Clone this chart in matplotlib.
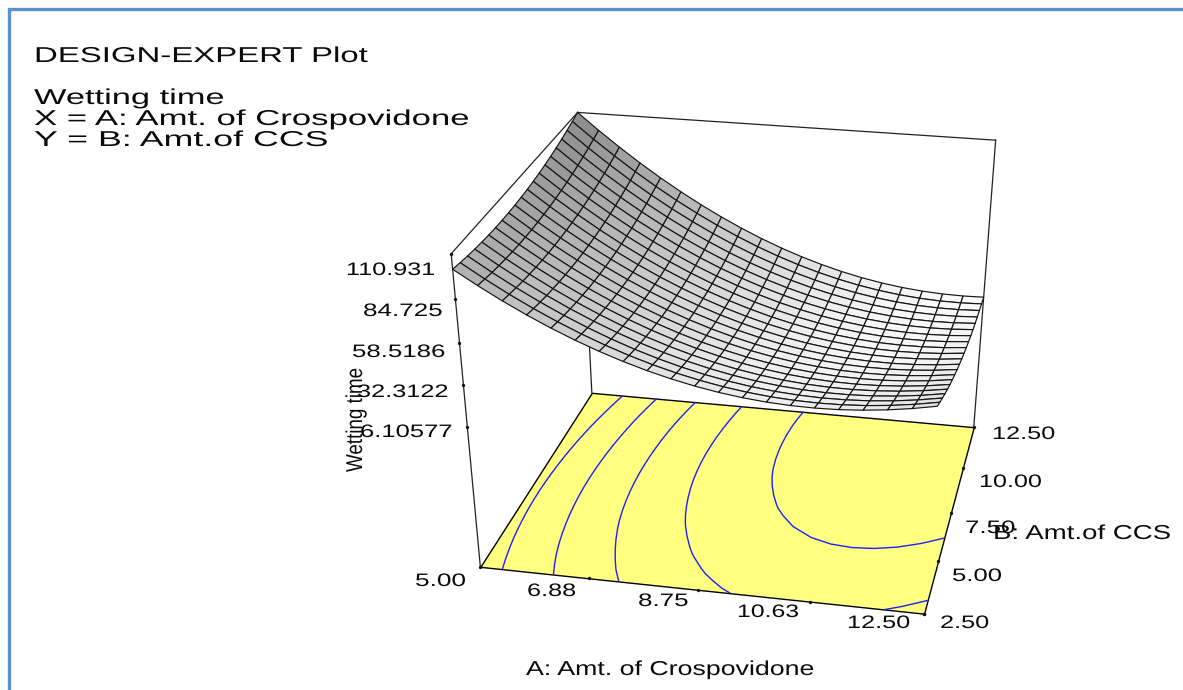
"""
plot.py - Design-Expert response surface for wetting time, with contours on the floor
"""
import numpy as np
import matplotlib
matplotlib.use("Agg")
import matplotlib.pyplot as plt
from matplotlib.collections import PolyCollection
from matplotlib.patheffects import AbstractPathEffect
from matplotlib.transforms import Affine2D

a_ticks = [5.00, 6.88, 8.75, 10.63, 12.50]
b_ticks = [2.50, 5.00, 7.50, 10.00, 12.50]
z_ticks = [6.10577, 32.3122, 58.5186, 84.725, 110.931]
contour_levels = [23.6, 41.1, 58.6, 76.0, 93.4]
z_floor = -88.4

# wetting time: rows go along A (5 -> 12.5), columns along B (2.5 -> 12.5)
wetting = np.array([
    [102.00, 100.93, 100.01, 99.26, 98.67, 98.23, 97.96, 97.85, 97.89, 98.10, 98.47, 98.99, 99.68, 100.52, 101.53, 102.70, 104.02, 105.51, 107.16, 108.96, 110.93],
    [93.63, 92.44, 91.40, 90.53, 89.82, 89.27, 88.87, 88.64, 88.57, 88.65, 88.90, 89.31, 89.87, 90.60, 91.49, 92.54, 93.74, 95.11, 96.64, 98.32, 100.17],
    [85.85, 84.54, 83.39, 82.39, 81.56, 80.89, 80.38, 80.02, 79.83, 79.80, 79.93, 80.21, 80.66, 81.27, 82.04, 82.96, 84.05, 85.30, 86.71, 88.27, 90.00],
    [78.64, 77.21, 75.94, 74.82, 73.87, 73.08, 72.45, 71.98, 71.66, 71.51, 71.52, 71.69, 72.02, 72.50, 73.15, 73.96, 74.93, 76.06, 77.34, 78.79, 80.40],
    [72.02, 70.47, 69.08, 67.85, 66.77, 65.86, 65.11, 64.52, 64.09, 63.82, 63.71, 63.75, 63.96, 64.33, 64.86, 65.55, 66.40, 67.40, 68.57, 69.90, 71.39],
    [65.98, 64.31, 62.80, 61.45, 60.26, 59.23, 58.35, 57.64, 57.09, 56.70, 56.47, 56.40, 56.49, 56.74, 57.15, 57.72, 58.44, 59.33, 60.38, 61.59, 62.96],
    [60.53, 58.74, 57.11, 55.64, 54.33, 53.18, 52.19, 51.36, 50.69, 50.18, 49.83, 49.63, 49.60, 49.73, 50.02, 50.47, 51.08, 51.85, 52.78, 53.87, 55.12],
    [55.65, 53.74, 51.99, 50.40, 48.97, 47.70, 46.59, 45.64, 44.85, 44.22, 43.75, 43.44, 43.29, 43.30, 43.47, 43.80, 44.29, 44.94, 45.75, 46.72, 47.85],
    [51.36, 49.33, 47.46, 45.75, 44.20, 42.81, 41.58, 40.51, 39.60, 38.85, 38.27, 37.84, 37.57, 37.46, 37.51, 37.72, 38.09, 38.62, 39.31, 40.16, 41.17],
    [47.65, 45.50, 43.51, 41.68, 40.01, 38.51, 37.16, 35.97, 34.94, 34.07, 33.36, 32.81, 32.42, 32.19, 32.12, 32.22, 32.47, 32.88, 33.45, 34.18, 35.07],
    [44.53, 42.26, 40.15, 38.20, 36.42, 34.79, 33.32, 32.01, 30.86, 29.87, 29.05, 28.38, 27.87, 27.52, 27.33, 27.30, 27.43, 27.73, 28.18, 28.79, 29.56],
    [41.98, 39.59, 37.36, 35.30, 33.39, 31.64, 30.05, 28.62, 27.36, 26.25, 25.30, 24.51, 23.88, 23.42, 23.11, 22.96, 22.97, 23.14, 23.48, 23.97, 24.62],
    [40.02, 37.51, 35.17, 32.98, 30.95, 29.08, 27.38, 25.83, 24.44, 23.21, 22.15, 21.24, 20.49, 19.90, 19.48, 19.21, 19.10, 19.15, 19.37, 19.74, 20.27],
    [38.64, 36.01, 33.55, 31.24, 29.09, 27.11, 25.28, 23.61, 22.10, 20.76, 19.57, 18.54, 17.68, 16.97, 16.42, 16.04, 15.81, 15.74, 15.83, 16.09, 16.50],
    [37.85, 35.10, 32.52, 30.09, 27.82, 25.72, 23.77, 21.98, 20.36, 18.89, 17.59, 16.44, 15.45, 14.63, 13.96, 13.45, 13.11, 12.92, 12.89, 13.03, 13.32],
    [37.63, 34.76, 32.06, 29.51, 27.13, 24.90, 22.83, 20.93, 19.18, 17.60, 16.17, 14.90, 13.80, 12.85, 12.07, 11.44, 10.97, 10.67, 10.52, 10.54, 10.71],
    [38.00, 35.01, 32.19, 29.52, 27.02, 24.67, 22.49, 20.46, 18.60, 16.89, 15.35, 13.96, 12.73, 11.67, 10.76, 10.02, 9.43, 9.01, 8.74, 8.64, 8.69],
    [38.95, 35.85, 32.90, 30.12, 27.49, 25.03, 22.72, 20.58, 18.59, 16.77, 15.10, 13.60, 12.25, 11.07, 10.04, 9.18, 8.47, 7.93, 7.54, 7.32, 7.25],
    [40.49, 37.27, 34.20, 31.30, 28.55, 25.97, 23.54, 21.28, 19.17, 17.23, 15.45, 13.82, 12.36, 11.05, 9.91, 8.92, 8.10, 7.43, 6.93, 6.58, 6.40],
    [42.60, 39.26, 36.07, 33.05, 30.18, 27.48, 24.94, 22.55, 20.33, 18.26, 16.36, 14.62, 13.03, 11.61, 10.34, 9.24, 8.30, 7.51, 6.89, 6.42, 6.12],
    [45.30, 41.84, 38.53, 35.39, 32.41, 29.58, 26.92, 24.42, 22.07, 19.89, 17.87, 16.00, 14.30, 12.75, 11.37, 10.15, 9.08, 8.18, 7.44, 6.85, 6.43],
])

# camera of the plot: unit box (A, B, z) -> figure pixels
CAMERA = np.array([
    [410.21578, 210.06038, -73.83499, 480.34757],
    [24.55313, -108.59286, -338.23756, 566.84841],
    [-0.03627, 0.16655, -0.09901, 1.0],
])
FONT = "Liberation Sans"


class Stretch(AbstractPathEffect):
    """Widen the glyphs, the old Design-Expert export has them stretched."""

    def __init__(self, sx):
        super().__init__()
        self.sx = sx

    def draw_path(self, renderer, gc, tpath, affine, rgbFace=None):
        renderer.draw_path(gc, tpath, Affine2D().scale(self.sx, 1) + affine, rgbFace)


def project(a, b, z):
    a, b, z = np.broadcast_arrays(np.asarray(a, float), np.asarray(b, float), np.asarray(z, float))
    unit = np.stack([(a - 5.0) / 7.5, (b - 2.5) / 10.0, (z - z_floor) / (z_ticks[-1] - z_floor), np.ones_like(a)], -1)
    q = unit @ CAMERA.T
    return q[..., 0] / q[..., 2], q[..., 1] / q[..., 2], q[..., 2]


fig = plt.figure(figsize=(11.83, 6.90), dpi=100)
ax = fig.add_axes([0, 0, 1, 1])
ax.set_xlim(0, 1183)
ax.set_ylim(690, 0)
ax.axis("off")
renderer = fig.canvas.get_renderer()


def label(x, y, s, length, size=13.0, rotation=0):
    # x,y = start of the baseline, length = how long the text runs in pixels
    t = ax.text(x, y, s, fontsize=size, family=FONT, color="#0a0a0a", ha="left", va="baseline")
    width = t.get_window_extent(renderer).width
    t.set_rotation(rotation)
    t.set_rotation_mode("anchor")
    t.set_path_effects([Stretch(length / width)])
    return t


# slide frame
ax.plot([9.5, 9.5, 1183], [690, 8.5, 8.5], color="#5a8fd2", lw=2.4, solid_joinstyle="miter", zorder=6)

# floor with contours
a_grid = np.linspace(5.0, 12.5, wetting.shape[0])
b_grid = np.linspace(2.5, 12.5, wetting.shape[1])
A, B = np.meshgrid(a_grid, b_grid, indexing="ij")
corner_a = [5.0, 12.5, 12.5, 5.0]
corner_b = [2.5, 2.5, 12.5, 12.5]
fx, fy, _ = project(corner_a, corner_b, z_floor)
ax.add_collection(PolyCollection([np.column_stack([fx, fy])], facecolors="#ffff80", edgecolors="black",
                                 linewidths=1.0, zorder=1))
gx, gy, _ = project(A, B, z_floor)
ax.contour(gx, gy, wetting, levels=contour_levels, colors="#1f1fff", linewidths=1.0, zorder=2)

# open box
top = z_ticks[-1]
edges = [
    ((5.0, 2.5, z_floor), (5.0, 2.5, top)),
    ((5.0, 2.5, top), (5.0, 12.5, top)),
    ((5.0, 12.5, top), (12.5, 12.5, top)),
    ((12.5, 12.5, top), (12.5, 12.5, z_floor)),
    ((5.0, 12.5, top), (5.0, 12.5, z_floor)),
]
for p0, p1 in edges:
    x0, y0, _ = project(*p0)
    x1, y1, _ = project(*p1)
    ax.plot([x0, x1], [y0, y1], color="#222222", lw=0.9, zorder=3)

# surface, far cells first, grey follows the steepness of each cell
sx, sy, depth = project(A, B, wetting)
dz_a = np.diff(wetting, axis=0)[:, :-1] * 20
dz_b = np.diff(wetting, axis=1)[:-1, :] * 20
grey = 0.98 - 0.43 * np.clip(np.hypot(dz_a, dz_b) / 220.0, 0, 1.05) ** 1.6
cells, tones, keys = [], [], []
for i in range(wetting.shape[0] - 1):
    for j in range(wetting.shape[1] - 1):
        cells.append(np.array([[sx[i, j], sy[i, j]], [sx[i + 1, j], sy[i + 1, j]],
                               [sx[i + 1, j + 1], sy[i + 1, j + 1]], [sx[i, j + 1], sy[i, j + 1]]]))
        tones.append(str(round(float(grey[i, j]), 3)))
        keys.append(depth[i, j])
order = np.argsort(keys)[::-1]
ax.add_collection(PolyCollection([cells[k] for k in order], facecolors=[tones[k] for k in order],
                                 edgecolors="#151515", linewidths=0.85, zorder=4))

# tick dots
for xs, ys in [project(a_ticks, 2.5, z_floor)[:2], project(12.5, b_ticks, z_floor)[:2], project(5.0, 2.5, z_ticks)[:2]]:
    ax.plot(xs, ys, "o", color="#111111", ms=2.4, mew=0, zorder=5)

# texts
label(34, 62, "DESIGN-EXPERT Plot", 333, size=15.5)
label(34, 104, "Wetting time", 190, size=15.5)
label(34, 125, "X = A: Amt. of Crospovidone", 435, size=15.5)
label(34, 146, "Y = B: Amt.of CCS", 294, size=15.5)

label(346, 275, "110.931", 89)
label(363, 316, "84.725", 79)
label(352, 357, "58.5186", 93)
label(357, 397, "32.3122", 91)
label(360, 437, "6.10577", 92)
label(362, 472, "Wetting time", 104, size=16.5, rotation=90)

label(415, 586, "5.00", 51)
label(527, 596, "6.88", 49)
label(638, 606, "8.75", 50)
label(737, 617, "10.63", 62)
label(847, 628, "12.50", 63)

label(940, 628, "2.50", 49)
label(952, 581, "5.00", 50)
label(965, 533, "7.50", 50)
label(979, 487, "10.00", 63)
label(992, 439, "12.50", 63)

label(993, 539, "B: Amt.of CCS", 178, size=14.5)
label(526, 675, "A: Amt. of Crospovidone", 289, size=14.5)

fig.savefig("out.png", dpi=100)
